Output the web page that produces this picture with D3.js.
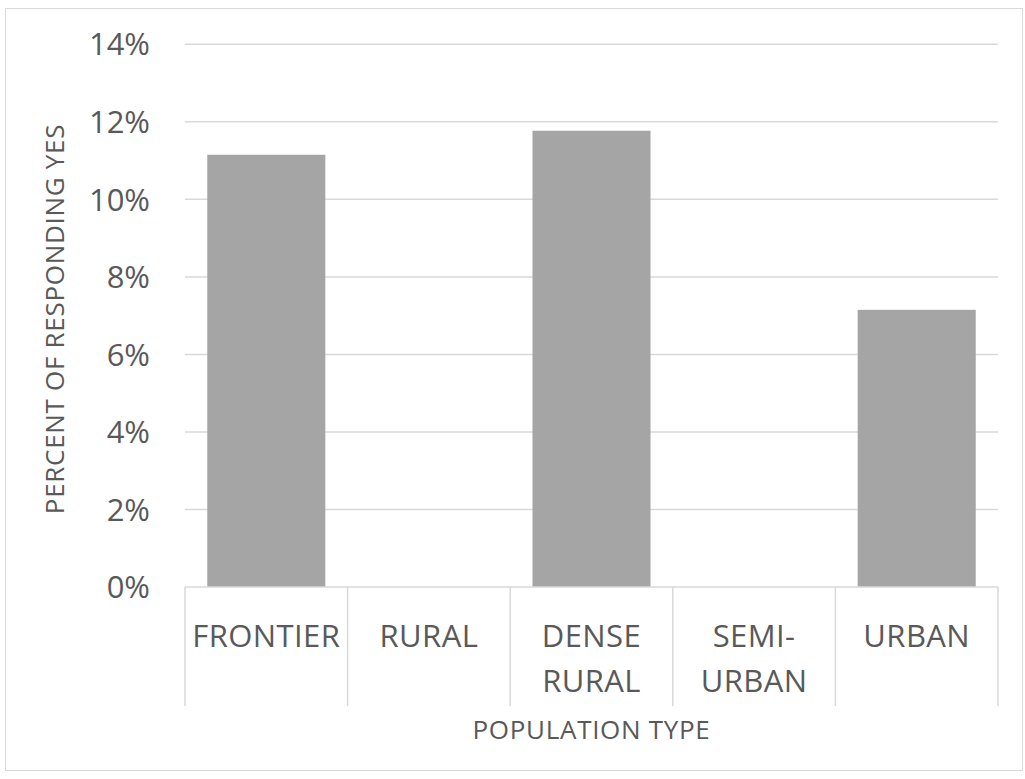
<!DOCTYPE html>
<html>
<head>
<meta charset="utf-8">
<script src="https://cdn.jsdelivr.net/npm/d3@7"></script>
<style>
  html, body { margin: 0; padding: 0; background: #fff; }
  svg { display: block; }
</style>
</head>
<body>
<script>
const categories = [["FRONTIER"], ["RURAL"], ["DENSE", "RURAL"], ["SEMI-", "URBAN"], ["URBAN"]];
const values = [11.15, null, 11.77, null, 7.15];
const yTicks = [0, 2, 4, 6, 8, 10, 12, 14];
const yTitle = "PERCENT OF RESPONDING YES";
const xTitle = "POPULATION TYPE";

const W = 1025, H = 779;
const mLeft = 185, mRight = 998, mTop = 44.3, mBottom = 587;
const font = "'Open Sans', sans-serif";
const textColor = "#595959";

const svg = d3.select("body").append("svg").attr("width", W).attr("height", H);

svg.append("rect").attr("x", 5.5).attr("y", 8.5).attr("width", 1017).attr("height", 762)
  .attr("fill", "#fff").attr("stroke", "#d9d9d9").attr("stroke-width", 1);

const keys = categories.map((c, i) => i);
const x = d3.scaleBand().domain(keys).range([mLeft, mRight]).paddingInner(0.274).paddingOuter(0.137);
const xCat = d3.scaleBand().domain(keys).range([mLeft, mRight]);
const y = d3.scaleLinear().domain([0, 14]).range([mBottom, mTop]);

// gridlines
svg.append("g").selectAll("line").data(yTicks.filter(d => d > 0)).join("line")
  .attr("x1", mLeft).attr("x2", mRight)
  .attr("y1", d => y(d)).attr("y2", d => y(d))
  .attr("stroke", "#d9d9d9").attr("stroke-width", 1.5);

// y tick labels
svg.append("g").selectAll("text").data(yTicks).join("text")
  .attr("x", 150).attr("y", d => y(d))
  .attr("dy", "0.36em")
  .attr("text-anchor", "end")
  .attr("font-family", font).attr("font-size", 31).attr("fill", textColor)
  .text(d => d + "%");

// bars
svg.append("g").selectAll("rect").data(values.map((v, i) => ({v, i})).filter(d => d.v != null)).join("rect")
  .attr("x", d => x(d.i)).attr("width", x.bandwidth())
  .attr("y", d => y(d.v)).attr("height", d => y(0) - y(d.v))
  .attr("fill", "#a5a5a5");

// x axis line and category dividers
svg.append("line").attr("x1", mLeft).attr("x2", mRight).attr("y1", mBottom).attr("y2", mBottom)
  .attr("stroke", "#d9d9d9").attr("stroke-width", 1.5);
const dividers = keys.map(k => xCat(k)).concat([mRight]);
svg.append("g").selectAll("line").data(dividers).join("line")
  .attr("x1", d => d).attr("x2", d => d)
  .attr("y1", mBottom).attr("y2", 706)
  .attr("stroke", "#d9d9d9").attr("stroke-width", 1.5);

// category labels
const catG = svg.append("g").selectAll("text").data(categories.map((c, i) => ({c, i}))).join("text")
  .attr("text-anchor", "middle")
  .attr("font-family", font).attr("font-size", 31).attr("letter-spacing", 0.4).attr("fill", textColor)
  .attr("x", d => xCat(d.i) + xCat.bandwidth() / 2)
  .attr("y", 647);
catG.selectAll("tspan").data(d => d.c.map((t, j) => ({t, j, x: xCat(d.i) + xCat.bandwidth() / 2}))).join("tspan")
  .attr("x", d => d.x).attr("dy", d => d.j === 0 ? 0 : 45)
  .text(d => d.t);

// axis titles
svg.append("text").attr("x", (mLeft + mRight) / 2).attr("y", 739)
  .attr("text-anchor", "middle")
  .attr("font-family", font).attr("font-size", 26).attr("letter-spacing", 0.7).attr("fill", textColor)
  .text(xTitle);

svg.append("text")
  .attr("transform", `translate(64, 319) rotate(-90)`)
  .attr("text-anchor", "middle")
  .attr("font-family", font).attr("font-size", 26).attr("letter-spacing", 0.7).attr("fill", textColor)
  .text(yTitle);
</script>
</body>
</html>
